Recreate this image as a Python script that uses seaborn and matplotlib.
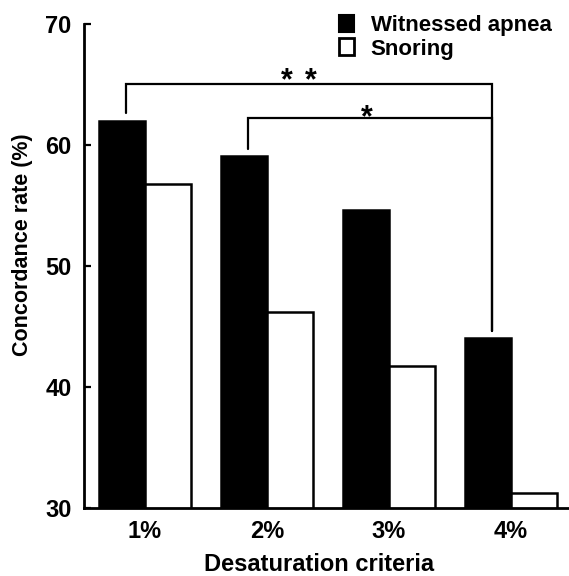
import matplotlib
matplotlib.use("Agg")
import matplotlib.pyplot as plt
from matplotlib.patches import Patch
from matplotlib.ticker import FixedLocator
import seaborn as sns
import pandas as pd

# ---- data ----
categories = ["1%", "2%", "3%", "4%"]
series = ["Witnessed apnea", "Snoring"]
apnea = [62.0, 59.1, 54.6, 44.0]
snoring = [56.8, 46.2, 41.7, 31.2]
yticks = [30, 40, 50, 60, 70]
# significance brackets: (from category index, to category index, star label)
brackets = [(0, 3, "*"), (1, 3, "*")]
bracket_levels = [65.0, 62.2]
star_x = [[1.161, 1.358], [1.817]]

sns.set_theme(style="white")
plt.rcParams["font.family"] = ["Liberation Sans", "DejaVu Sans"]
plt.rcParams["font.weight"] = "bold"
for k in ["text.color", "axes.labelcolor", "xtick.color", "ytick.color"]:
    plt.rcParams[k] = "black"

df = pd.DataFrame({
    "criteria": categories * 2,
    "group": [series[0]] * len(categories) + [series[1]] * len(categories),
    "rate": apnea + snoring,
})

fig = plt.figure(figsize=(5.69, 5.76), dpi=100)
ax = fig.add_axes([84 / 569, 1 - 507.7 / 576, 1 - 84 / 569, (507.7 - 24) / 576])

W = 0.75
sns.barplot(data=df, x="criteria", y="rate", hue="group", hue_order=series,
            palette={series[0]: "black", series[1]: "white"}, saturation=1,
            edgecolor="black", linewidth=1.8, width=W, errorbar=None,
            legend=False, ax=ax)

ax.set_ylim(30, 70)
ax.set_xlim(-0.5, 3.475)
ax.set_yticks(yticks)
ax.set_yticklabels([str(v) for v in yticks], fontsize=17, fontweight="bold")
ax.set_xticks(range(len(categories)))
ax.set_xticklabels(categories, fontsize=17, fontweight="bold")
ax.xaxis.set_minor_locator(FixedLocator([0.48, 1.48, 2.47]))
ax.tick_params(axis="x", which="major", length=0, pad=9)
ax.tick_params(axis="x", which="minor", direction="in", length=6, width=1.6, color="black")
ax.tick_params(axis="y", which="major", direction="in", length=5, width=1.6,
               color="black", pad=9, left=True)

for s in ["top", "right"]:
    ax.spines[s].set_visible(False)
for s in ["left", "bottom"]:
    ax.spines[s].set_color("black")
    ax.spines[s].set_linewidth(2.0)

ax.set_xlabel("Desaturation criteria", fontsize=17, fontweight="bold")
ax.set_ylabel("Concordance rate (%)", fontsize=15.5, fontweight="bold")
ax.xaxis.set_label_coords(0.4845, -0.093)
ax.yaxis.set_label_coords(-0.105, 0.543)

# significance brackets
gap = 0.6
offs = -W / 4 + 0.03
star_offsets = [-3.7, -5.8]
for (i, j, lab), lvl, xs, off in zip(brackets, bracket_levels, star_x, star_offsets):
    xi, xj = i + offs, j + offs
    ax.plot([xi, xi, xj, xj], [apnea[i] + gap, lvl, lvl, apnea[j] + gap],
            color="black", lw=1.6, solid_joinstyle="miter", clip_on=False)
    for x in xs:
        ax.annotate(lab, xy=(x, lvl), xytext=(0, off), textcoords="offset points",
                    ha="center", va="baseline", fontsize=22, fontweight="bold")

handles = [Patch(facecolor="black", edgecolor="black", linewidth=1.5),
           Patch(facecolor="white", edgecolor="black", linewidth=2.0)]
fig.legend(handles, series, loc="upper left", bbox_to_anchor=(339 / 569, 1 - 15 / 576),
           frameon=False, prop={"size": 16, "weight": "bold"},
           handlelength=0.68, handleheight=0.8, handletextpad=0.75,
           labelspacing=0.1, borderaxespad=0, borderpad=0)

fig.savefig("out.png", dpi=100)
